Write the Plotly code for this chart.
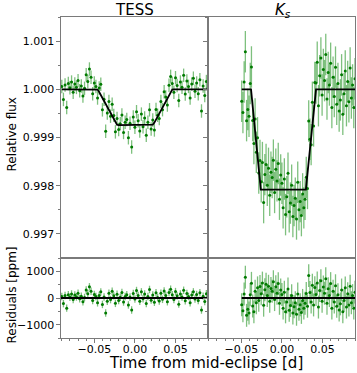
import plotly.graph_objects as go

# TESS light curve (time in days, flux and residuals in ppm)
tess_time = [
    -0.090, -0.088, -0.086, -0.084, -0.082, -0.080, -0.078, -0.076, -0.074, -0.072,
    -0.070, -0.068, -0.066, -0.064, -0.062, -0.060, -0.058, -0.056, -0.054, -0.052,
    -0.050, -0.048, -0.046, -0.044, -0.042, -0.040, -0.038, -0.036, -0.034, -0.032,
    -0.030, -0.028, -0.026, -0.024, -0.022, -0.020, -0.018, -0.016, -0.014, -0.012,
    -0.010, -0.008, -0.006, -0.004, -0.002, 0.000, 0.002, 0.004, 0.006, 0.008,
    0.010, 0.012, 0.014, 0.016, 0.018, 0.020, 0.022, 0.024, 0.026, 0.028,
    0.030, 0.032, 0.034, 0.036, 0.038, 0.040, 0.042, 0.044, 0.046, 0.048,
    0.050, 0.052, 0.054, 0.056, 0.058, 0.060, 0.062, 0.064, 0.066, 0.068,
    0.070, 0.072, 0.074, 0.076, 0.078, 0.080, 0.082, 0.084, 0.086, 0.088,
    0.090,
]
tess_flux_ppm = [
    60, -210, 90, -380, 120, 30, 150, -60, 110, 40,
    180, -30, 70, -140, 20, 300, 160, 420, 250, -90,
    130, 60, -180, 28, 106, -426, -208, -870, -492, -255,
    -557, -309, -541, -883, -605, -835, -715, -535, -895, -685,
    -625, -1005, -705, -1195, -575, -785, -465, -655, -865, -515,
    -775, -595, -955, -685, -425, -825, -635, -843, -421, -539,
    -607, -255, -422, -50, -158, -326, 86, 268, 120, -60,
    240, 80, -230, 150, 40, 290, -100, 170, 60, -180,
    110, 230, -40, 130, -90, 200, -450, 70, -130, 160,
    20,
]
tess_resid_ppm = [
    60, -210, 90, -380, 120, 30, 150, -60, 110, 40,
    180, -30, 70, -140, 20, 300, 160, 420, 250, -90,
    130, 60, -180, 90, 230, -240, 40, -560, -120, 180,
    -60, 250, 80, -200, 140, -90, 30, 210, -150, 60,
    120, -260, 40, -450, 170, -40, 280, 90, -120, 230,
    -30, 150, -210, 60, 320, -80, 110, -160, 200, 20,
    -110, 180, -50, 260, 90, -140, 210, 330, 120, -60,
    240, 80, -230, 150, 40, 290, -100, 170, 60, -180,
    110, 230, -40, 130, -90, 200, -450, 70, -130, 160,
    20,
]
tess_err_ppm = 140

tess_model_time = [-0.090, -0.048, -0.046, -0.044, -0.024, -0.022, -0.020,
                   0.020, 0.022, 0.024, 0.044, 0.046, 0.048, 0.090]
tess_model_ppm = [0, 0, -5, -55, -690, -735, -745,
                  -745, -735, -690, -55, -5, 0, 0]

# Ks light curve
ks_time = [
    -0.0495, -0.0480, -0.0465, -0.0450, -0.0435, -0.0420, -0.0405, -0.0390, -0.0375, -0.0360,
    -0.0345, -0.0330, -0.0315, -0.0300, -0.0285, -0.0270, -0.0255, -0.0240, -0.0225, -0.0210,
    -0.0195, -0.0180, -0.0165, -0.0150, -0.0135, -0.0120, -0.0105, -0.0090, -0.0075, -0.0060,
    -0.0045, -0.0030, -0.0015, 0.0000, 0.0015, 0.0030, 0.0045, 0.0060, 0.0075, 0.0090,
    0.0105, 0.0120, 0.0135, 0.0150, 0.0165, 0.0180, 0.0195, 0.0210, 0.0225, 0.0240,
    0.0255, 0.0270, 0.0285, 0.0300, 0.0315, 0.0330, 0.0345, 0.0360, 0.0375, 0.0390,
    0.0405, 0.0420, 0.0435, 0.0450, 0.0465, 0.0480, 0.0495, 0.0510, 0.0525, 0.0540,
    0.0555, 0.0570, 0.0585, 0.0600, 0.0615, 0.0630, 0.0645, 0.0660, 0.0675, 0.0690,
    0.0705, 0.0720, 0.0735, 0.0750, 0.0765, 0.0780, 0.0795, 0.0810, 0.0825, 0.0840,
    0.0855, 0.0870, 0.0885, 0.0900,
]
ks_flux_ppm = [
    -250, -480, 150, 780, -650, -420, -560, 120, 463, -647,
    -1127, -617, -1307, -1007, -1737, -1477, -1920, -1520, -2350, -1770,
    -1560, -1990, -1640, -2200, -1720, -1830, -1470, -2140, -1660, -1900,
    -1540, -2280, -1780, -1950, -2460, -1860, -2600, -2230, -1740, -2540,
    -2360, -1990, -2640, -2410, -2260, -2690, -1930, -2500, -2330, -2620,
    -2170, -2460, -2280, -1827, -2057, -658, -1038, -1148, -269, -759,
    140, 130, 560, -340, 280, 650, -120, 410, 180, 720,
    -200, 350, 90, 540, -380, 250, -150, 460, -310, 120,
    -450, -220, 300, -520, -90, 380, -340, 160, -260, 440,
    -180, 90, -380, 220,
]
ks_resid_ppm = [
    -250, -480, 150, 780, -650, -420, -560, 120, 550, -300,
    -520, 250, -180, 380, -90, 430, 160, 560, -270, 310,
    520, 90, 440, -120, 360, 250, 610, -60, 420, 180,
    540, -200, 300, 130, -380, 220, -520, -150, 340, -460,
    -280, 90, -560, -330, -180, -610, 150, -420, -250, -540,
    -90, -380, -200, 170, -310, 840, 210, -150, 480, -260,
    390, 130, 560, -340, 280, 650, -120, 410, 180, 720,
    -200, 350, 90, 540, -380, 250, -150, 460, -310, 120,
    -450, -220, 300, -520, -90, 380, -340, 160, -260, 440,
    -180, 90, -380, 220,
]
ks_err_ppm = 430

ks_model_time = [-0.0495, -0.038, -0.026, 0.0295, 0.042, 0.090]
ks_model_ppm = [0, 0, -2080, -2080, 0, 0]

tess_zero_time = [-0.091, 0.090]
ks_zero_time = [-0.0495, 0.090]

FONT = "DejaVu Sans"
SPINE = "#7a7a7a"
DOT = "#007a00"
BAR = "rgba(40,150,40,0.6)"


def to_flux(ppm):
    """Convert ppm offsets to relative flux"""
    return [1 + v * 1e-6 for v in ppm]


def data_trace(x, y, err, xa, ya):
    return go.Scatter(
        x=x, y=y, mode="markers", xaxis=xa, yaxis=ya, showlegend=False,
        marker=dict(color=DOT, size=3),
        error_y=dict(type="constant", value=err, color=BAR,
                     thickness=1.3, width=0),
    )


def line_trace(x, y, xa, ya):
    return go.Scatter(
        x=x, y=y, mode="lines", xaxis=xa, yaxis=ya, showlegend=False,
        line=dict(color="black", width=1.8),
    )


fig = go.Figure()

# Top panels
fig.add_trace(data_trace(tess_time, to_flux(tess_flux_ppm), tess_err_ppm * 1e-6, "x", "y"))
fig.add_trace(line_trace(tess_model_time, to_flux(tess_model_ppm), "x", "y"))
fig.add_trace(data_trace(ks_time, to_flux(ks_flux_ppm), ks_err_ppm * 1e-6, "x2", "y2"))
fig.add_trace(line_trace(ks_model_time, to_flux(ks_model_ppm), "x2", "y2"))

# Residual panels
fig.add_trace(data_trace(tess_time, tess_resid_ppm, tess_err_ppm, "x3", "y3"))
fig.add_trace(line_trace(tess_zero_time, [0, 0], "x3", "y3"))
fig.add_trace(data_trace(ks_time, ks_resid_ppm, ks_err_ppm, "x4", "y4"))
fig.add_trace(line_trace(ks_zero_time, [0, 0], "x4", "y4"))

W, H = 357, 373
left_dom = [61 / W, 208 / W]
right_dom = [208 / W, 355 / W]
top_dom = [(H - 258) / H, (H - 17) / H]
bot_dom = [(H - 338) / H, (H - 258) / H]

axis_common = dict(
    showline=True, linecolor=SPINE, linewidth=1.1, mirror=True,
    showgrid=False, zeroline=False, ticks="outside", ticklen=3.5,
    tickcolor=SPINE, tickwidth=1, automargin=False,
    tickfont=dict(family=FONT, size=11, color="black"),
)
x_range = [-0.091, 0.090]
x_minor = dict(dtick=0.01, ticks="outside", ticklen=2, tickcolor=SPINE)

fig.update_layout(
    width=W, height=H,
    margin=dict(l=0, r=0, t=0, b=0),
    paper_bgcolor="white", plot_bgcolor="white",
    font=dict(family=FONT, color="black"),
    xaxis=dict(axis_common, domain=left_dom, range=x_range, anchor="y",
               ticks="", showticklabels=False),
    xaxis2=dict(axis_common, domain=right_dom, range=x_range, anchor="y2",
                ticks="", showticklabels=False),
    xaxis3=dict(axis_common, domain=left_dom, range=x_range, anchor="y3",
                tickvals=[-0.05, 0, 0.05], tickformat=".2f", minor=x_minor,
                ticklabelstandoff=-3),
    xaxis4=dict(axis_common, domain=right_dom, range=x_range, anchor="y4",
                tickvals=[-0.05, 0, 0.05], tickformat=".2f", minor=x_minor,
                ticklabelstandoff=-3),
    yaxis=dict(axis_common, domain=top_dom, range=[0.9965, 1.0015], anchor="x",
               tick0=0.997, dtick=0.001, tickformat=".3f",
               minor=dict(dtick=0.0005, ticks="outside", ticklen=2, tickcolor=SPINE)),
    yaxis2=dict(axis_common, domain=top_dom, range=[0.9965, 1.0015], anchor="x2",
                tick0=0.997, dtick=0.001, showticklabels=False,
                minor=dict(dtick=0.0005, ticks="outside", ticklen=2, tickcolor=SPINE)),
    yaxis3=dict(axis_common, domain=bot_dom, range=[-1500, 1500], anchor="x3",
                tickvals=[-1000, 0, 1000],
                minor=dict(dtick=500, ticks="outside", ticklen=2, tickcolor=SPINE)),
    yaxis4=dict(axis_common, domain=bot_dom, range=[-1500, 1500], anchor="x4",
                tickvals=[-1000, 0, 1000], showticklabels=False,
                minor=dict(dtick=500, ticks="outside", ticklen=2, tickcolor=SPINE)),
)

# Panel titles and axis labels
labels = [
    dict(text="TESS", x=134.5 / W, y=1, anchor="top", size=15, angle=0),
    dict(text="<i>K</i><sub><i>s</i></sub>", x=283 / W, y=1, anchor="top", size=15, angle=0),
    dict(text="Relative flux", x=11.5 / W, y=1 - 135 / H, anchor="middle", size=12, angle=-90),
    dict(text="Residuals [ppm]", x=11.5 / W, y=1 - 295 / H, anchor="middle", size=12, angle=-90),
    dict(text="Time from mid-eclipse [d]", x=206 / W, y=0, anchor="bottom", size=15, angle=0),
]
for lab in labels:
    fig.add_annotation(
        text=lab["text"], x=lab["x"], y=lab["y"], xref="paper", yref="paper",
        xanchor="center", yanchor=lab["anchor"], showarrow=False,
        textangle=lab["angle"], borderpad=0,
        font=dict(family=FONT, size=lab["size"], color="black"),
    )

# Drop the page's default body margin so the figure sits at the top-left corner
fig.write_html(
    "out.html",
    config={"displayModeBar": False},
    post_script="document.body.style.margin='0px';document.body.style.overflow='hidden';",
)
